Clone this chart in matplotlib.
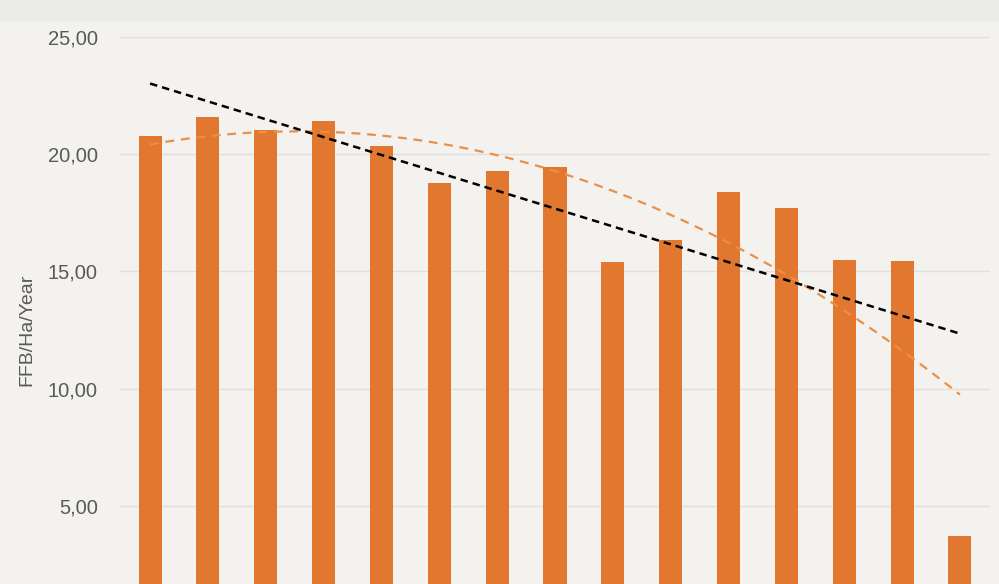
import numpy as np
import matplotlib
matplotlib.use("Agg")
import matplotlib.pyplot as plt
from matplotlib.patches import Rectangle
from matplotlib.ticker import FuncFormatter

# FFB yield per hectare per year, one bar per period
periods = np.arange(15)
ffb = [20.78, 21.59, 21.03, 21.42, 20.35, 18.77, 19.29, 19.46,
       15.41, 16.34, 18.39, 17.71, 15.49, 15.45, 3.72]
yticks = [5, 10, 15, 20, 25]

bar_col = "#e2782f"
bg = "#f4f2ef"

fig = plt.figure(figsize=(9.99, 5.84), dpi=100, facecolor=bg)
fig.patches.append(Rectangle((0, 1 - 22/584), 1, 22/584, transform=fig.transFigure,
                             facecolor="#ececeb", edgecolor="none", zorder=0))

ax = fig.add_axes([120/999, 1 - 37/584 - 586/584, 870/999, 586/584])
ax.set_facecolor("none")
ax.bar(periods, ffb, width=0.4, color=bar_col, zorder=2)

# trendlines (linear and 2nd order polynomial)
xs = np.linspace(0, 14, 200)
lin = np.polyfit(periods, ffb, 1)
poly = np.polyfit(periods, ffb, 2)
ax.plot(xs, np.polyval(poly, xs), "--", color="#e8904a", lw=1.6, dashes=(4, 3), zorder=3)
ax.plot(xs, np.polyval(lin, xs), "--", color="black", lw=1.8, dashes=(3, 2), zorder=4)

ax.set_xlim(-0.52, 14.52)
ax.set_ylim(0, 25)
ax.set_yticks(yticks)
ax.yaxis.set_major_formatter(FuncFormatter(lambda v, p: f"{v:.2f}".replace(".", ",")))
ax.grid(axis="y", color="#e1dfdc", lw=1, zorder=0)
ax.set_xticks([])
ax.tick_params(axis="y", length=0, pad=16, labelsize=14.5, labelcolor="#595959")
for s in ax.spines.values():
    s.set_visible(False)
for t in ax.get_yticklabels():
    t.set_fontfamily("Liberation Sans")

ax.set_ylabel("FFB/Ha/Year", fontsize=14, color="#595959", family="Liberation Sans")
ax.yaxis.set_label_coords(-0.097, 0.50)

fig.savefig("out.png", dpi=100, facecolor=bg)
